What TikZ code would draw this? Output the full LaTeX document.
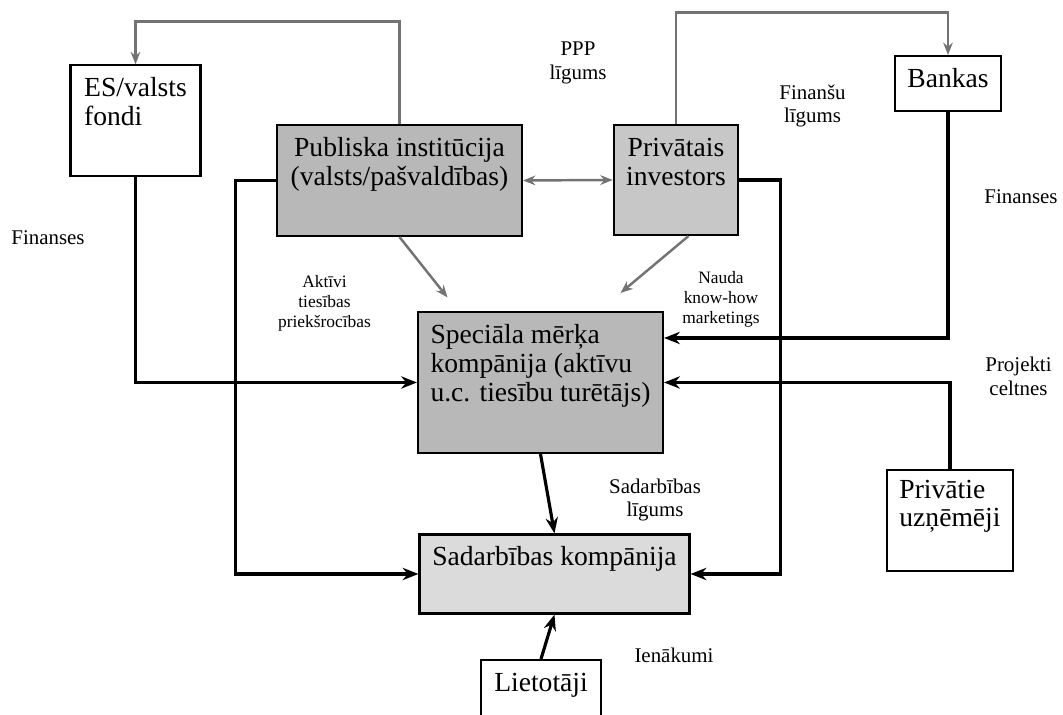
\documentclass[tikz,border=0pt]{standalone}
\usepackage{fontspec}
\setmainfont{Liberation Serif}
\usetikzlibrary{arrows.meta}

\begin{document}
\begin{tikzpicture} [>={Stealth[length=9pt,width=7pt]},
			box/.style={draw,line width=1.2pt,inner sep=0pt,text height=0.63cm,
				font=\fontsize{15.7}{16.4}\selectfont},
			dark box/.style={box,fill=black!28},
			light box/.style={box,fill=black!14},
			flow/.style={->,line width=1.8pt},
			link/.style={->,line width=1.4pt,black!55,>={Stealth[length=7pt,width=5.5pt]}},
			note/.style={align=center,font=\fontsize{11.9}{13.6}\selectfont},
			small note/.style={align=center,font=\fontsize{9.9}{11.3}\selectfont}]

		\useasboundingbox (0,0) rectangle (21.26,14.3);

		% boxes
		\node [box, align=left, minimum width=2.6cm, text height=1.21cm, text depth=1cm] (es) at (2.71,11.89) {ES/valsts\\fondi};
		\node [dark box, align=center, minimum width=4.9cm, text height=1.21cm, text depth=1.01cm] (pub) at (7.99,10.69) {Publiska institūcija\\(valsts/pašvaldības)};
		\node [box, fill=black!22, align=center, minimum width=2.49cm, text height=1.21cm, text depth=0.99cm] (priv) at (13.52,10.7) {Privātais\\investors};
		\node [box, minimum width=2.13cm, text depth=0.47cm] (bank) at (18.96,12.63) {Bankas};
		\node [dark box, align=left, minimum width=4.9cm, text height=1.79cm, text depth=1.03cm] (spv) at (10.81,6.65) {Speciāla mērķa\\kompānija (aktīvu\\u.c. tiesību turētājs)};
		\node [light box, minimum width=5.4cm, text depth=0.95cm] (sad) at (11.09,2.82) {Sadarbības kompānija};
		\node [box, minimum width=2.39cm, text depth=0.57cm] (liet) at (10.82,0.5) {Lietotāji};
		\node [box, align=left, minimum width=2.52cm, text height=1.14cm, text depth=0.88cm] (uzn) at (19,3.89) {Privātie\\uzņēmēji};

		% labels
		\node [note] (ppp) at (11.56,13.04) {PPP\\līgums};
		\node [note] (finlig) at (16.25,12.18) {Finanšu\\līgums};
		\node [note] (finleft) at (0.96,9.54) {Finanses};
		\node [note] (finright) at (20.42,10.36) {Finanses};
		\node [small note] (aktivi) at (6.49,8.24) {Aktīvi\\tiesības\\priekšrocības};
		\node [small note] (nauda) at (14.42,8.32) {Nauda\\know-how\\marketings};
		\node [note] (proj) at (20.37,6.78) {Projekti\\celtnes};
		\node [note] (sadlig) at (13.1,4.3) {Sadarbības\\līgums};
		\node [note] (ienak) at (13.48,1.2) {Ienākumi};

		\coordinate (pubtip) at (8.95,8.35);
		\coordinate (privtip) at (12.41,8.44);

		% gray links
		\draw [link] (pub.north) -- ++(0,2.05) -| (es.north);
		\draw [link] (priv.north) -- ++(0,2.23) -| (bank.north);
		\draw [link, <->] (pub.east) -- (priv.west);
		\draw [link] (pub.south) -- (pubtip);
		\draw [link] ([xshift=0.25cm]priv.south) -- (privtip);

		% black flows
		\draw [flow] (es.south) |- (spv.west);
		\draw [flow] (pub.west) -- ++(-0.81,0) |- (sad.west);
		\draw [flow] (priv.east) -- ++(0.82,0) |- (sad.east);
		\draw [flow] (bank.south) |- ([yshift=0.89cm]spv.east);
		\draw [flow] (uzn.north) |- (spv.east);
		\draw [flow] (spv.south) -- (sad.north);
		\draw [flow] (liet.north) -- (sad.south);

\end{tikzpicture}
\end{document}
